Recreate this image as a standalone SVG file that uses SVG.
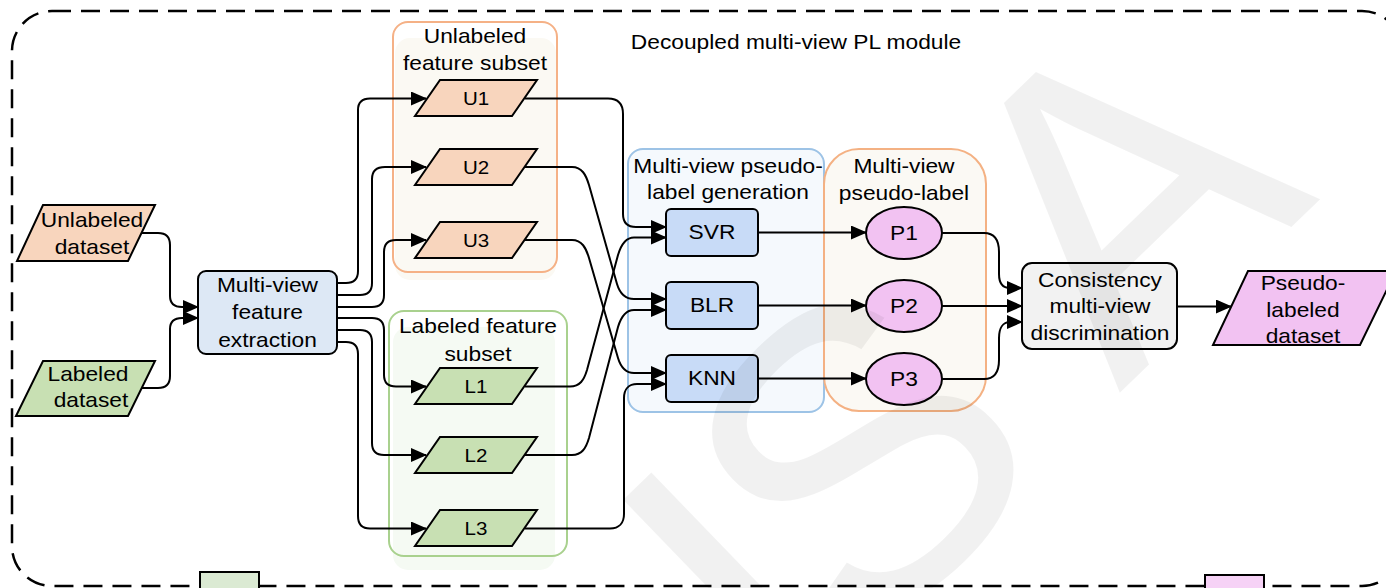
<svg xmlns="http://www.w3.org/2000/svg" width="1386" height="588" viewBox="0 0 1386 588">
  <defs>
    <marker id="arr" viewBox="0 0 16 14" refX="15" refY="7" markerWidth="16" markerHeight="14" markerUnits="userSpaceOnUse" orient="auto">
      <path d="M0,0 L16,7 L0,14 z" fill="#000"/>
    </marker>
  </defs>
  <style>
    text { font-family: "Liberation Sans", Arial, sans-serif; font-size: 20.5px; fill: #000; text-anchor: middle;
           transform-box: fill-box; transform-origin: center; transform: scaleX(1.11); }
    .sm { font-size: 18.5px; }
    .edge { fill: none; stroke: #000; stroke-width: 2; marker-end: url(#arr); }
    .ln { stroke: #000; stroke-width: 2; }
    .peach { fill: #f8d5bd; }
    .green { fill: #c8e0b3; }
    .blue { fill: #c8dbf7; }
    .pink { fill: #f2c2f2; }
    .wm { font-size: 420px; fill: #000; fill-opacity: 0.055; transform: none; }
  </style>

  <!-- module frame -->
  <rect x="12" y="11" width="1390" height="575" rx="40" fill="none" stroke="#000" stroke-width="2.5" stroke-dasharray="19 10"/>
  <text x="796" y="49">Decoupled multi-view PL module</text>

  <!-- partial blocks of the next stage -->
  <rect x="200" y="572" width="59" height="30" fill="#dbead3" class="ln" stroke-width="1.5"/>
  <rect x="1205" y="575" width="59" height="30" fill="#f6d2f6" class="ln" stroke-width="1.5"/>

  <!-- containers -->
  <g id="unlabeled-subset">
    <rect x="395" y="38" width="161" height="242" rx="15" fill="#fbf9f3"/>
    <rect x="393" y="22" width="164" height="250" rx="15" fill="none" stroke="#f5b186" stroke-width="2"/>
    <text x="475" y="43">Unlabeled</text>
    <text x="475" y="70">feature subset</text>
  </g>
  <g id="labeled-subset">
    <rect x="393" y="327" width="162" height="243" rx="15" fill="#f5faf3"/>
    <rect x="389" y="311" width="178" height="245" rx="15" fill="none" stroke="#a9d18e" stroke-width="2"/>
    <text x="478" y="333">Labeled feature</text>
    <text x="478" y="361">subset</text>
  </g>
  <g id="generation">
    <rect x="628" y="149" width="196" height="263" rx="15" fill="#f5f9fd" stroke="#9dc3e6" stroke-width="2"/>
    <text x="728" y="173">Multi-view pseudo-</text>
    <text x="728" y="199">label generation</text>
  </g>
  <g id="pseudo-labels">
    <rect x="824" y="149" width="162" height="262" rx="35" fill="#fbf9f4" stroke="#f4b183" stroke-width="2"/>
    <text x="904" y="173">Multi-view</text>
    <text x="904" y="200">pseudo-label</text>
  </g>

  <!-- connectors -->
  <g id="connectors">
    <path class="edge" d="M142 233 H158 C166 233 170 237 170 245 V296 C170 304 174 307 182 307 L198 307"/>
    <path class="edge" d="M142 388 H158 C166 388 170 384 170 376 V329 C170 321 174 318 182 318 L198 318"/>

    <path class="edge" d="M337 283 H346 C354 283 358 279 358 271 V110 C358 102 362 98.5 370 98.5 L426 98.5"/>
    <path class="edge" d="M337 295 H360 C368 295 372 291 372 283 V179 C372 171 377 167 385 167 L426 167"/>
    <path class="edge" d="M337 307 H372 C380 307 384 303 384 295 V252 C384 244 388 240 396 240 L426 240"/>
    <path class="edge" d="M337 318 H372 C380 318 384 322 384 330 V375 C384 383 388 386.5 396 386.5 L426 386.5"/>
    <path class="edge" d="M337 330 H360 C368 330 372 334 372 342 V443 C372 451 376 455 384 455 L426 455"/>
    <path class="edge" d="M337 342 H346 C354 342 358 346 358 354 V516 C358 524 362 528.5 370 528.5 L426 528.5"/>

    <path class="edge" d="M525 98.5 H608 C618 98.5 623 104 623 114 V214 C623 223 628 227 636 227 L666 227"/>
    <path class="edge" d="M525 167 H572 C582 167 586 175 589 185 L617 284 C620 294 626 299 634 299 L666 299"/>
    <path class="edge" d="M525 240 H572 C582 240 586 248 589 258 L618 358 C621 368 626 373 634 373 L666 373"/>
    <path class="edge" d="M525 386.5 H570 C580 386.5 584 380 587 370 L618 255 C621 245 626 237.5 634 237.5 L666 237.5"/>
    <path class="edge" d="M525 455 H572 C582 455 586 448 589 438 L618 327 C621 317 626 310 634 310 L666 310"/>
    <path class="edge" d="M525 528.5 H610 C619 528.5 624 523 624 514 V398 C624 389 629 384 637 384 L666 384"/>

    <path class="edge" d="M758 232.5 L866 232.5"/>
    <path class="edge" d="M758 305.5 L866 305.5"/>
    <path class="edge" d="M758 378.5 L866 378.5"/>

    <path class="edge" d="M942 233 H984 C995 233 999 240 999 252 V274 C999 284 1003 288 1010 288 L1022 288"/>
    <path class="edge" d="M942 306 L1022 306"/>
    <path class="edge" d="M942 379 H984 C995 379 999 372 999 360 V338 C999 328 1003 322 1010 322 L1022 322"/>

    <path class="edge" d="M1177 306.5 L1231 306.5"/>
  </g>

  <!-- inputs -->
  <g id="unlabeled-dataset">
    <polygon class="peach ln" points="43,205 155,205 128,261 17,261"/>
    <text x="92" y="227">Unlabeled</text>
    <text x="92" y="254">dataset</text>
  </g>
  <g id="labeled-dataset">
    <polygon class="green ln" points="43,361 155,361 128,416 16,416"/>
    <text x="88" y="381">Labeled</text>
    <text x="91" y="407">dataset</text>
  </g>
  <g id="feature-extraction">
    <rect x="198" y="271" width="139" height="83" rx="8" fill="#dde8f5" class="ln"/>
    <text x="267.5" y="292">Multi-view</text>
    <text x="267.5" y="319">feature</text>
    <text x="267.5" y="347">extraction</text>
  </g>

  <!-- feature subsets -->
  <g id="U1"><polygon class="peach ln" points="440,80 537,80 512,116 415,116"/><text class="sm" x="476" y="105">U1</text></g>
  <g id="U2"><polygon class="peach ln" points="440,149 537,149 512,185 415,185"/><text class="sm" x="476" y="174">U2</text></g>
  <g id="U3"><polygon class="peach ln" points="440,222 537,222 512,258 415,258"/><text class="sm" x="476" y="247">U3</text></g>
  <g id="L1"><polygon class="green ln" points="440,368 537,368 512,404 415,404"/><text class="sm" x="476" y="393">L1</text></g>
  <g id="L2"><polygon class="green ln" points="440,437 537,437 512,473 415,473"/><text class="sm" x="476" y="462">L2</text></g>
  <g id="L3"><polygon class="green ln" points="440,510 537,510 512,546 415,546"/><text class="sm" x="476" y="535">L3</text></g>

  <!-- regressors -->
  <g id="SVR"><rect class="blue ln" x="666" y="209" width="92" height="47" rx="5"/><text x="712" y="239">SVR</text></g>
  <g id="BLR"><rect class="blue ln" x="666" y="282" width="92" height="47" rx="5"/><text x="712" y="312">BLR</text></g>
  <g id="KNN"><rect class="blue ln" x="666" y="355" width="92" height="47" rx="5"/><text x="712" y="385">KNN</text></g>

  <!-- pseudo-labels -->
  <g id="P1"><ellipse class="pink ln" cx="904" cy="233" rx="38" ry="26"/><text x="904" y="240">P1</text></g>
  <g id="P2"><ellipse class="pink ln" cx="904" cy="306" rx="38" ry="26"/><text x="904" y="313">P2</text></g>
  <g id="P3"><ellipse class="pink ln" cx="904" cy="379" rx="38" ry="26"/><text x="904" y="386">P3</text></g>

  <g id="consistency">
    <rect x="1022" y="263" width="155" height="86" rx="10" fill="#f2f2f2" class="ln"/>
    <text x="1100" y="287">Consistency</text>
    <text x="1100" y="313">multi-view</text>
    <text x="1100" y="340">discrimination</text>
  </g>
  <g id="pseudo-labeled-dataset">
    <polygon class="pink ln" points="1248,271 1396,271 1360,345 1213,345"/>
    <text x="1303" y="290">Pseudo-</text>
    <text x="1303" y="317">labeled</text>
    <text x="1303" y="343">dataset</text>
  </g>

  <!-- watermark -->
  <g id="watermark">
    <g transform="rotate(-44 838 694)"><text class="wm" x="838" y="694">I</text></g>
    <g transform="rotate(-44 960 560)"><text class="wm" x="960" y="560">S</text></g>
    <g transform="rotate(-44 1220 296)"><text class="wm" x="1220" y="296">A</text></g>
  </g>
</svg>
